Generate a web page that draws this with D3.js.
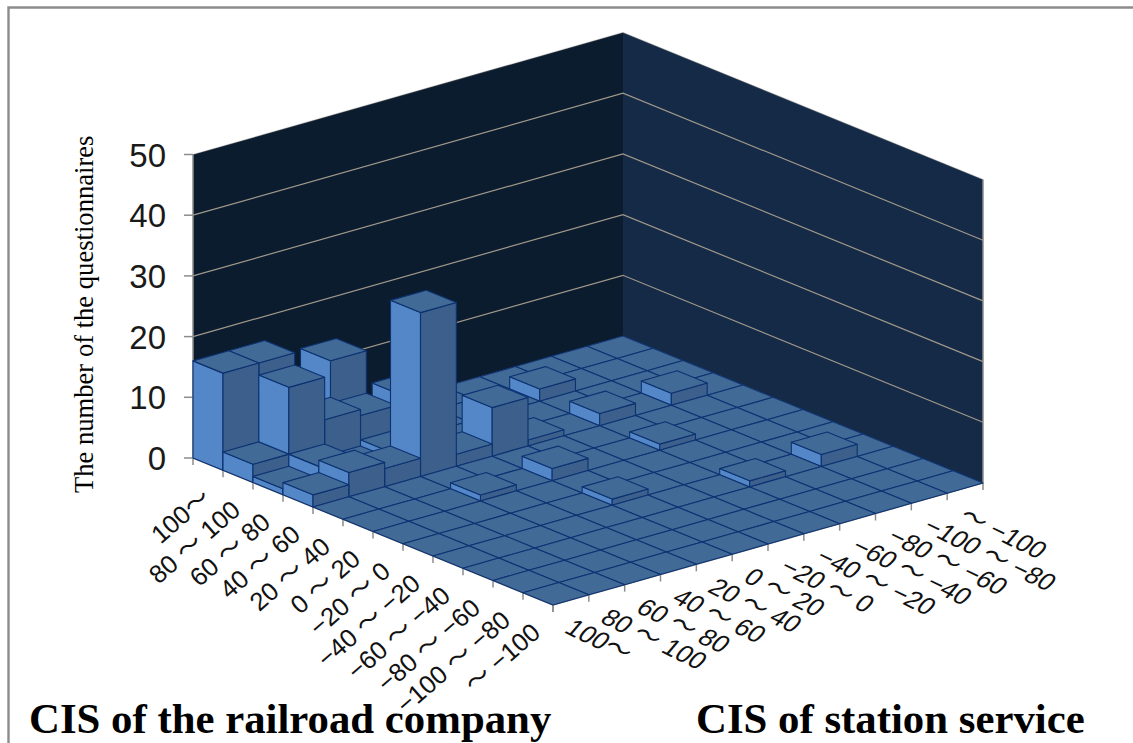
<!DOCTYPE html>
<html>
<head>
<meta charset="utf-8">
<script src="https://cdn.jsdelivr.net/npm/d3@7"></script>
<style>
  html, body { margin: 0; padding: 0; background: #fff; }
  svg { display: block; }
</style>
</head>
<body>
<svg id="chart" width="1133" height="743"></svg>
<script>
// Category labels along the two floor axes.
const railroadCategories = ["100～", "80 ～ 100", "60 ～ 80", "40 ～ 60", "20 ～ 40", "0 ～ 20",
  "−20 ～ 0", "−40 ～ −20", "−60 ～ −40", "−80 ～ −60", "−100 ～ −80", "～ −100"];
const stationCategories = railroadCategories;

// Questionnaire counts: one array per railroad-company bin, one value per station-service bin.
const rail100Plus = [16, 16, 0, 13, 0, 4, 0, 0, 0, 0, 0, 0];
const rail80to100 = [3, 14, 7, 6, 0, 0, 0, 0, 2, 0, 0, 0];
const rail60to80 = [1, 3, 1, 2, 0, 0, 0, 0, 0, 0, 0, 0];
const rail40to60 = [2, 4, 3, 27, 2, 8, 1, 0, 2, 0, 2, 0];
const rail20to40 = [0, 0, 0, 0, 0, 0, 0, 0, 0, 0, 0, 0];
const rail0to20 = [0, 0, 0, 1, 0, 2, 0, 0, 1, 0, 0, 0];
const railMinus20to0 = [0, 0, 0, 0, 0, 0, 0, 0, 0, 0, 0, 0];
const railMinus40to20 = [0, 0, 0, 0, 0, 1, 0, 0, 0, 0, 0, 0];
const railMinus60to40 = [0, 0, 0, 0, 0, 0, 0, 0, 1, 0, 2, 0];
const railMinus80to60 = [0, 0, 0, 0, 0, 0, 0, 0, 0, 0, 0, 0];
const railMinus100to80 = [0, 0, 0, 0, 0, 0, 0, 0, 0, 0, 0, 0];
const railBelowMinus100 = [0, 0, 0, 0, 0, 0, 0, 0, 0, 0, 0, 0];
const counts = [rail100Plus, rail80to100, rail60to80, rail40to60, rail20to40, rail0to20,
  railMinus20to0, railMinus40to20, railMinus60to40, railMinus80to60, railMinus100to80, railBelowMinus100];

const countTicks = [0, 10, 20, 30, 40, 50];

const colors = {
  wallLeft: "#0c1c2f", wallRight: "#142a47", grid: "#a0988a", axis: "#8c8c8c",
  top: "#426a97", faceLeft: "#5487c7", faceRight: "#3c5f8b", edge: "#0c3272"
};

const svg = d3.select("#chart");
const n = railroadCategories.length;

// Oblique projection of the floor: each axis contributes a linear shift on screen.
const railX = d3.scaleLinear().domain([0, n]).range([0, 360]);
const railY = d3.scaleLinear().domain([0, n]).range([0, 147]);
const stationX = d3.scaleLinear().domain([0, n]).range([0, 430]);
const stationY = d3.scaleLinear().domain([0, n]).range([0, -122]);
const lift = d3.scaleLinear().domain([0, 50]).range([0, 303.5]);

const originX = 193, originY = 458;
const project = (r, s, z = 0) => [
  originX + railX(r) + stationX(s),
  originY + railY(r) + stationY(s) - lift(z)
];
const poly = pts => d3.line()(pts) + "Z";

// Frame around the slide
svg.append("path").attr("d", "M8.5,743V7.5H1133").attr("fill", "none")
  .attr("stroke", "#8c8c8c").attr("stroke-width", 2.4);

// Walls
svg.append("path").attr("fill", colors.wallLeft)
  .attr("d", poly([project(0, 0), project(0, n), project(0, n, 50), project(0, 0, 50)]));
svg.append("path").attr("fill", colors.wallRight)
  .attr("d", poly([project(0, n), project(n, n), project(n, n, 50), project(0, n, 50)]));

// Horizontal gridlines running along both walls
svg.append("g").selectAll("path").data(countTicks.slice(1)).join("path")
  .attr("fill", "none").attr("stroke", colors.grid).attr("stroke-width", 1.2)
  .attr("opacity", d => d === 50 ? 0.3 : 1)
  .attr("d", d => d3.line()([project(0, 0, d), project(0, n, d), project(n, n, d)]));

// Axis lines and ticks
const axisG = svg.append("g").attr("stroke", colors.axis).attr("fill", "none");
axisG.append("path").attr("stroke-width", 1.5)
  .attr("d", d3.line()([project(0, 0, 50), project(0, 0), project(n, 0), project(n, n), project(n, n, 50)]));
axisG.selectAll(".count-tick").data(countTicks).join("path").attr("class", "count-tick").attr("stroke-width", 1.5)
  .attr("d", d => { const [x, y] = project(0, 0, d); return `M${x - 9},${y}H${x}`; });
axisG.selectAll(".rail-tick").data(d3.range(n + 1)).join("path").attr("class", "rail-tick").attr("stroke-width", 1.5)
  .attr("d", d => { const [x, y] = project(d, 0); return `M${x},${y}v7`; });
axisG.selectAll(".station-tick").data(d3.range(n + 1)).join("path").attr("class", "station-tick").attr("stroke-width", 1.5)
  .attr("d", d => { const [x, y] = project(n, d); return `M${x},${y}v7`; });

// Bars, painted from the back corner toward the viewer
const cells = [];
for (let r = 0; r < n; r++) {
  for (let s = n - 1; s >= 0; s--) cells.push({ r, s, v: counts[r][s] });
}
const bars = svg.append("g").attr("stroke", colors.edge).attr("stroke-width", 1.1).attr("stroke-linejoin", "round")
  .selectAll("g").data(cells).join("g");
bars.filter(d => d.v > 0).append("path").attr("fill", colors.faceLeft)
  .attr("d", d => poly([project(d.r, d.s), project(d.r + 1, d.s), project(d.r + 1, d.s, d.v), project(d.r, d.s, d.v)]));
bars.filter(d => d.v > 0).append("path").attr("fill", colors.faceRight)
  .attr("d", d => poly([project(d.r + 1, d.s), project(d.r + 1, d.s + 1), project(d.r + 1, d.s + 1, d.v), project(d.r + 1, d.s, d.v)]));
bars.append("path").attr("fill", colors.top)
  .attr("d", d => poly([project(d.r, d.s, d.v), project(d.r + 1, d.s, d.v), project(d.r + 1, d.s + 1, d.v), project(d.r, d.s + 1, d.v)]));

// Count axis labels
svg.append("g").selectAll("text").data(countTicks).join("text")
  .attr("x", 166).attr("y", d => project(0, 0, d)[1] + 12)
  .attr("text-anchor", "end").attr("font-family", "'Liberation Sans', Arial, sans-serif")
  .attr("font-size", 33).attr("fill", "#1a1a1a").text(d => d);

const labelFont = "'Liberation Sans', 'Noto Sans CJK JP', sans-serif";

// Railroad-company labels slope up toward the left floor edge
svg.append("g").selectAll("text").data(railroadCategories).join("text")
  .attr("text-anchor", "end").attr("font-family", labelFont).attr("font-size", 25.5).attr("fill", "#111")
  .attr("transform", (d, i) => {
    const [x, y] = project(i + 0.5, 0);
    return `translate(${x + 4},${y + 36}) rotate(-41)`;
  }).text(d => d);

// Station-service labels slope down, slanted like the floor
svg.append("g").selectAll("text").data(stationCategories).join("text")
  .attr("text-anchor", "start").attr("font-family", labelFont).attr("font-size", 25.5).attr("fill", "#111")
  .attr("transform", (d, i) => {
    const [x, y] = project(n, i + 0.5);
    return `translate(${x - 8},${y + 32}) rotate(26) skewX(-14)`;
  }).text(d => d);

// Axis titles
const serif = "'Liberation Serif', 'Times New Roman', serif";
svg.append("text").attr("x", 29).attr("y", 733).attr("font-family", serif).attr("font-weight", "bold")
  .attr("font-size", 42.8).attr("fill", "#000").text("CIS of the railroad company");
svg.append("text").attr("x", 696).attr("y", 733).attr("font-family", serif).attr("font-weight", "bold")
  .attr("font-size", 42.8).attr("fill", "#000").text("CIS of station service");
svg.append("text").attr("transform", "translate(93,493) rotate(-90)").attr("font-family", serif)
  .attr("font-size", 26.6).attr("fill", "#000").text("The number of the questionnaires");
</script>
</body>
</html>
